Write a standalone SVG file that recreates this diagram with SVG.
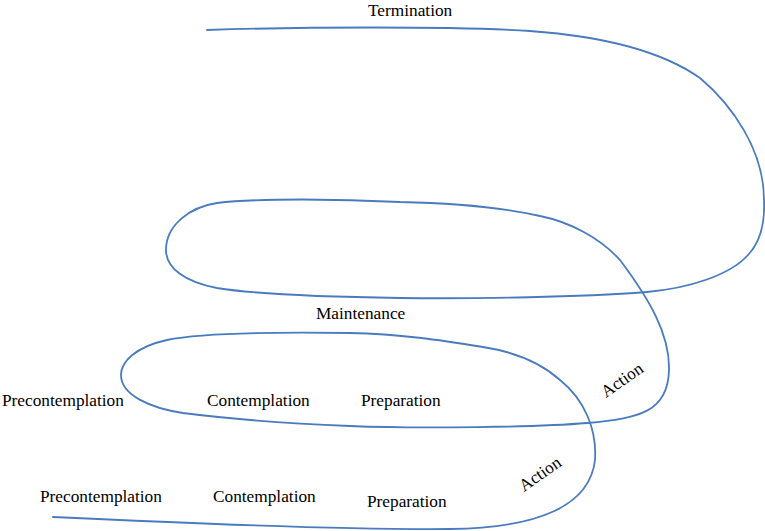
<svg xmlns="http://www.w3.org/2000/svg" width="765" height="531" viewBox="0 0 765 531">
<style>
.lbl{font-family:"Liberation Serif","Times New Roman",serif;font-size:17.3px;fill:#000}
.spiral{fill:none;stroke:#4a7bbf;stroke-width:1.8;stroke-linecap:round;stroke-linejoin:round}
</style>
<rect width="765" height="531" fill="#fff"/>
<g id="connectors">
<path class="spiral" d="M53,517 C180,523 350,530 450,529 C540,528 590,505 595,460 C597,430 585,400 560,380 C540,362 515,352 483,347 C440,340 400,334 350,333 C280,332 200,333 167,340 C135,347 121,362 121,375 C121,395 150,408 183,413 C230,419 300,424 350,426 C420,429 540,427 587,423 C640,418 668,412 669,370 C670,335 650,300 620,260 C600,238 570,222 540,216 C500,207 450,203 400,202 C340,199 260,198 217,203 C190,207 166,225 166,250 C166,268 185,282 217,288 C260,295 330,297 400,298 C480,299 580,297 647,292 C690,288 730,275 748,255 C762,240 765,220 764,200 C764,150 732,105 700,78 C660,50 600,36 530,31 C450,26 300,27 207,30"/>
</g>
<g id="termination"><text class="lbl" x="368" y="16">Termination</text></g>
<g id="maintenance"><text class="lbl" x="316" y="319">Maintenance</text></g>
<g id="precontemplation-2"><text class="lbl" x="2" y="406">Precontemplation</text></g>
<g id="contemplation-2"><text class="lbl" x="207" y="406">Contemplation</text></g>
<g id="preparation-2"><text class="lbl" x="361" y="406">Preparation</text></g>
<g id="action-2"><text class="lbl" transform="translate(606,398) rotate(-35)">Action</text></g>
<g id="precontemplation-1"><text class="lbl" x="40" y="502">Precontemplation</text></g>
<g id="contemplation-1"><text class="lbl" x="213" y="502">Contemplation</text></g>
<g id="preparation-1"><text class="lbl" x="367" y="507">Preparation</text></g>
<g id="action-1"><text class="lbl" transform="translate(524,492) rotate(-35)">Action</text></g>
</svg>
